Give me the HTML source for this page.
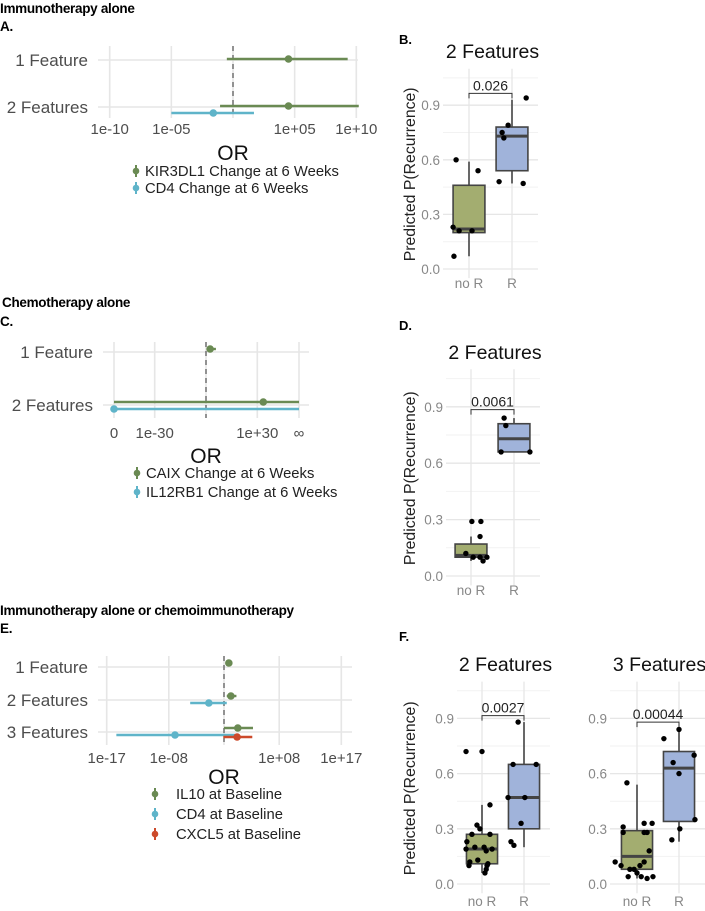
<!DOCTYPE html>
<html><head><meta charset="utf-8">
<style>
html,body{margin:0;padding:0;background:#fff;}
svg{display:block;font-family:"Liberation Sans",Arial,sans-serif;}
</style></head>
<body>
<svg id="fig" width="705" height="911" viewBox="0 0 705 911" xmlns="http://www.w3.org/2000/svg"></svg>
<script>
// ---------- Data (log10 odds ratios) ----------
const aRows = ["1 Feature", "2 Features"];
const aKirEst = [4.5, 4.5];
const aKirLo = [-0.5, -1.05];
const aKirHi = [9.3, 10.2];
const aCd4Est = [null, -1.6];
const aCd4Lo = [null, -5.0];
const aCd4Hi = [null, 1.7];
const aTicks = [-10, -5, 0, 5, 10];
const aTickLabels = ["1e-10", "1e-05", "", "1e+05", "1e+10"];

const cRows = ["1 Feature", "2 Features"];
const cCaixEst = [2.4, 33.5];
const cCaixLo = [0.6, -Infinity];
const cCaixHi = [5.8, Infinity];
const cIl12Est = [null, -Infinity];
const cIl12Lo = [null, -Infinity];
const cIl12Hi = [null, Infinity];
const cTicks = [-Infinity, -30, 0, 30, Infinity];
const cTickLabels = ["0", "1e-30", "", "1e+30", "∞"];

const eRows = ["1 Feature", "2 Features", "3 Features"];
const eIl10Est = [0.7, 1.0, 2.0];
const eIl10Lo = [0.3, 0.4, 0.0];
const eIl10Hi = [1.2, 1.8, 4.2];
const eCd4Est = [null, -2.2, -7.1];
const eCd4Lo = [null, -4.9, -15.6];
const eCd4Hi = [null, 0.4, 1.6];
const eCxEst = [null, null, 1.9];
const eCxLo = [null, null, -0.1];
const eCxHi = [null, null, 4.1];
const eTicks = [-17, -8, 0, 8, 17];
const eTickLabels = ["1e-17", "1e-08", "", "1e+08", "1e+17"];

// box plot data: [ymin, q1, median, q3, ymax]
const bNoRStats = [0.07, 0.20, 0.22, 0.46, 0.59];
const bRStats = [0.47, 0.54, 0.73, 0.78, 0.93];
const bNoRPts = [0.23, 0.07, 0.21, 0.21, 0.60, 0.54];
const bNoRJit = [-0.37, -0.35, -0.23, 0.07, -0.30, 0.21];
const bRPts = [0.48, 0.75, 0.72, 0.79, 0.47, 0.94];
const bRJit = [-0.30, -0.23, -0.19, -0.09, 0.26, 0.33];

const dNoRStats = [0.08, 0.10, 0.11, 0.17, 0.21];
const dRStats = [0.66, 0.66, 0.73, 0.81, 0.84];
const dNoRPts = [0.29, 0.29, 0.21, 0.12, 0.10, 0.10, 0.08, 0.10];
const dNoRJit = [0.02, 0.23, 0.21, -0.12, 0.05, 0.21, 0.28, 0.37];
const dRPts = [0.84, 0.80, 0.66, 0.66];
const dRJit = [-0.23, -0.19, -0.30, 0.37];

const f2NoRStats = [0.06, 0.11, 0.19, 0.27, 0.43];
const f2RStats = [0.20, 0.30, 0.47, 0.65, 0.88];
const f2NoRPts = [0.72, 0.72, 0.43, 0.23, 0.27, 0.32, 0.30, 0.27, 0.19, 0.20, 0.12, 0.13, 0.20, 0.18, 0.19, 0.10, 0.10, 0.08, 0.06, 0.11];
const f2NoRJit = [-0.38, 0.0, 0.19, -0.36, -0.24, -0.12, -0.05, 0.19, -0.38, -0.17, -0.29, -0.10, 0.05, 0.10, 0.24, -0.31, 0.12, 0.10, 0.07, 0.14];
const f2RPts = [0.88, 0.47, 0.65, 0.47, 0.65, 0.33, 0.23, 0.21];
const f2RJit = [-0.14, -0.38, -0.26, 0.02, 0.29, -0.07, -0.31, -0.24];

const f3NoRStats = [0.03, 0.08, 0.15, 0.29, 0.54];
const f3RStats = [0.23, 0.34, 0.63, 0.72, 0.85];
const f3NoRPts = [0.55, 0.31, 0.28, 0.12, 0.10, 0.04, 0.08, 0.06, 0.04, 0.12, 0.03, 0.18, 0.28, 0.28, 0.33, 0.33, 0.04, 0.08, 0.10];
const f3NoRJit = [-0.24, -0.33, -0.33, -0.52, -0.38, -0.21, -0.07, 0.0, 0.10, 0.17, 0.24, 0.29, 0.24, 0.17, 0.36, 0.17, 0.38, -0.17, 0.07];
const f3RPts = [0.79, 0.84, 0.66, 0.60, 0.70, 0.35, 0.30, 0.24];
const f3RJit = [-0.36, 0.0, -0.14, 0.0, 0.36, 0.38, 0.02, -0.17];

// ---------- helpers ----------
const NS = "http://www.w3.org/2000/svg";
const fig = document.getElementById("fig");
function mk(tag, attrs, parent) {
  const e = document.createElementNS(NS, tag);
  for (const k in attrs) e.setAttribute(k, attrs[k]);
  (parent || fig).appendChild(e);
  return e;
}
function txt(x, y, s, size, opts, parent) {
  const t = mk("text", Object.assign({x: x, y: y, "font-size": size, fill: "#4d4d4d"}, opts || {}), parent);
  t.textContent = s;
  return t;
}
const GREEN = "#6a8a53", CYAN = "#5fb4c9", RED = "#cc4a2b", GRID = "#e6e6e6";

// ---------- headings ----------
[["Immunotherapy alone", 0, 13], ["A.", 0, 31], ["Chemotherapy alone", 2, 307], ["C.", 0, 326],
 ["Immunotherapy alone or chemoimmunotherapy", 0, 615], ["E.", 0, 633]].forEach(h => {
  const t = txt(h[1], h[2], h[0], 13.5, {"font-weight": "bold", fill: "#000", "letter-spacing": "-0.3"});
  
  
});
[["B.", 399, 44], ["D.", 399, 330], ["F.", 399, 641]].forEach(h => {
  const t = txt(h[1], h[2], h[0], 13, {"font-weight": "bold", fill: "#000"});
  
  
});

// ---------- forest plot ----------
function forest(cfg) {
  const g = mk("g", {});
  
  
  cfg.ticks.forEach(v => {
    const l = mk("line", {x1: cfg.sx(v), x2: cfg.sx(v), y1: cfg.top, y2: cfg.bottom, stroke: GRID, "stroke-width": 1.6}, g);
    
    
  });
  cfg.rows.forEach((r, i) => {
    const y = cfg.rowY[i];
    const l = mk("line", {x1: cfg.left, x2: cfg.right, y1: y, y2: y, stroke: GRID, "stroke-width": 1.6}, g);
    
    
    const t = txt(cfg.left - 10, y + 6, r, 17, {"text-anchor": "end"}, g);
    
    
  });
  const d = mk("line", {x1: cfg.sx(0), x2: cfg.sx(0), y1: cfg.top, y2: cfg.bottom, stroke: "#333", "stroke-width": 1, "stroke-dasharray": "5,4"}, g);
  
  
  cfg.ticks.forEach((v, i) => {
    const t = txt(cfg.sx(v), cfg.tickY, cfg.tickLabels[i], 15, {"text-anchor": "middle"}, g);
    
    
  });
  const ot = txt(cfg.sx(0), cfg.orY, "OR", 21, {"text-anchor": "middle", fill: "#111"}, g);
  
  
  cfg.series.forEach(s => {
    s.est.forEach((e, i) => {
      if (e === null) return;
      const y = cfg.rowY[i] + s.dy;
      const l = mk("line", {x1: cfg.sx(s.lo[i]), x2: cfg.sx(s.hi[i]), y1: y, y2: y, stroke: s.color, "stroke-width": 2.4}, g);
      
      
      const c = mk("circle", {cx: cfg.sx(e), cy: y, r: 3.8, fill: s.color}, g);
      
      
    });
  });
  cfg.series.forEach((s, i) => {
    const y = cfg.legY + i * cfg.legStep;
    const k = mk("g", {}, g);
    
    
    mk("line", {x1: cfg.legX, x2: cfg.legX, y1: y - 6, y2: y + 6, stroke: s.color, "stroke-width": 2}, k);
    mk("circle", {cx: cfg.legX, cy: y, r: 3.3, fill: s.color}, k);
    txt(cfg.legTextX, y + 5, s.label, 14.8, {fill: "#222"}, k);
  });
}

const aSx = v => 233 + v * 12.33;
forest({name: "forest-plot-a", sx: aSx, left: 98, right: 358, top: 46, bottom: 118,
  rows: aRows, rowY: [60, 107], ticks: aTicks, tickLabels: aTickLabels, tickY: 134, orY: 160,
  legX: 136, legTextX: 145, legY: 171, legStep: 17,
  series: [
    {label: "KIR3DL1 Change at 6 Weeks", color: GREEN, est: aKirEst, lo: aKirLo, hi: aKirHi, dy: -1},
    {label: "CD4 Change at 6 Weeks", color: CYAN, est: aCd4Est, lo: aCd4Lo, hi: aCd4Hi, dy: 6}
  ]});

const cSx = v => v === -Infinity ? 114 : (v === Infinity ? 299 : 206 + v * 1.71);
forest({name: "forest-plot-c", sx: cSx, left: 103, right: 309, top: 342, bottom: 418,
  rows: cRows, rowY: [352, 405], ticks: cTicks, tickLabels: cTickLabels, tickY: 438, orY: 463,
  legX: 137, legTextX: 146, legY: 473, legStep: 19,
  series: [
    {label: "CAIX Change at 6 Weeks", color: GREEN, est: cCaixEst, lo: cCaixLo, hi: cCaixHi, dy: -3},
    {label: "IL12RB1 Change at 6 Weeks", color: CYAN, est: cIl12Est, lo: cIl12Lo, hi: cIl12Hi, dy: 4}
  ]});

const eSx = v => 224 + v * 6.9;
forest({name: "forest-plot-e", sx: eSx, left: 98, right: 352, top: 656, bottom: 745,
  rows: eRows, rowY: [667, 700, 732], ticks: eTicks, tickLabels: eTickLabels, tickY: 763, orY: 784,
  legX: 155, legTextX: 176, legY: 794, legStep: 20,
  series: [
    {label: "IL10 at Baseline", color: GREEN, est: eIl10Est, lo: eIl10Lo, hi: eIl10Hi, dy: -4},
    {label: "CD4 at Baseline", color: CYAN, est: eCd4Est, lo: eCd4Lo, hi: eCd4Hi, dy: 3},
    {label: "CXCL5 at Baseline", color: RED, est: eCxEst, lo: eCxLo, hi: eCxHi, dy: 5}
  ]});

// ---------- box plots ----------
function boxplot(cfg) {
  const g = mk("g", {});
  
  
  const sy = v => cfg.y0 - v * cfg.k;
  const catX = [cfg.x1, cfg.x2];
  const half = (cfg.x2 - cfg.x1) * 0.37;
  [0.15, 0.45, 0.75, 1.05].forEach(v => {
    const l = mk("line", {x1: cfg.left, x2: cfg.right, y1: sy(v), y2: sy(v), stroke: "#f2f2f2", "stroke-width": 1}, g);
    
    
  });
  [0, 0.3, 0.6, 0.9].forEach(v => {
    const l = mk("line", {x1: cfg.left, x2: cfg.right, y1: sy(v), y2: sy(v), stroke: "#e6e6e6", "stroke-width": 1.3}, g);
    
    
    const t = txt(cfg.left - 3, sy(v) + 5, v.toFixed(1), 13.5, {"text-anchor": "end", fill: "#888"}, g);
    
    
  });
  catX.forEach((x, i) => {
    const l = mk("line", {x1: x, x2: x, y1: sy(1.1), y2: sy(-0.05), stroke: "#e6e6e6", "stroke-width": 1.3}, g);
    
    
    const t = txt(x, cfg.labY, ["no R", "R"][i], 13.5, {"text-anchor": "middle", fill: "#888"}, g);
    
    
  });
  const tt = txt((cfg.left + cfg.right) / 2 + 2, cfg.titleY, cfg.title, 19.5, {"text-anchor": "middle", fill: "#111"}, g);
  
  
  if (cfg.ylab) {
    const yl = txt(0, 0, "Predicted P(Recurrence)", 15.8, {"text-anchor": "middle", fill: "#222", transform: `translate(${cfg.ylabX},${sy(0.52)}) rotate(-90)`}, g);
    
    
  }
  [[cfg.noR, "#a3ad70"], [cfg.R, "#a0b3da"]].forEach((p, i) => {
    const s = p[0], x = catX[i];
    const b = mk("g", {}, g);
    
    
    mk("line", {x1: x, x2: x, y1: sy(s[0]), y2: sy(s[4]), stroke: "#444", "stroke-width": 1.6}, b);
    mk("rect", {x: x - half, y: sy(s[3]), width: 2 * half, height: sy(s[1]) - sy(s[3]), fill: p[1], stroke: "#444", "stroke-width": 1.6}, b);
    mk("line", {x1: x - half, x2: x + half, y1: sy(s[2]), y2: sy(s[2]), stroke: "#444", "stroke-width": 3}, b);
  });
  [[cfg.noRPts, cfg.noRJit, 0], [cfg.RPts, cfg.RJit, 1]].forEach(p => {
    p[0].forEach((v, i) => {
      const c = mk("circle", {cx: catX[p[2]] + p[1][i] * (cfg.x2 - cfg.x1), cy: sy(v), r: 2.7, fill: "#000"}, g);
      
      
    });
  });
  const by = sy(cfg.bracket);
  const br = mk("path", {d: `M${catX[0]},${by + 5} V${by} H${catX[1]} V${by + 5}`, fill: "none", stroke: "#333", "stroke-width": 1}, g);
  
  
  const pt = txt((catX[0] + catX[1]) / 2, by - 3, cfg.p, 14, {"text-anchor": "middle", fill: "#222"}, g);
  
  
}

boxplot({name: "boxplot-b", title: "2 Features", titleY: 58, y0: 269, k: 182, left: 443, right: 538,
  x1: 469, x2: 512, labY: 288, ylab: true, ylabX: 415,
  noR: bNoRStats, R: bRStats, noRPts: bNoRPts, noRJit: bNoRJit, RPts: bRPts, RJit: bRJit, bracket: 0.965, p: "0.026"});
boxplot({name: "boxplot-d", title: "2 Features", titleY: 359, y0: 576, k: 188, left: 446, right: 540,
  x1: 471, x2: 514, labY: 595, ylab: true, ylabX: 415,
  noR: dNoRStats, R: dRStats, noRPts: dNoRPts, noRJit: dNoRJit, RPts: dRPts, RJit: dRJit, bracket: 0.885, p: "0.0061"});
boxplot({name: "boxplot-f-2-features", title: "2 Features", titleY: 671, y0: 884, k: 184, left: 457, right: 550,
  x1: 482, x2: 524, labY: 906, ylab: true, ylabX: 415,
  noR: f2NoRStats, R: f2RStats, noRPts: f2NoRPts, noRJit: f2NoRJit, RPts: f2RPts, RJit: f2RJit, bracket: 0.915, p: "0.0027"});
boxplot({name: "boxplot-f-3-features", title: "3 Features", titleY: 671, y0: 884, k: 184, left: 610, right: 705,
  x1: 637, x2: 679, labY: 906, ylab: false,
  noR: f3NoRStats, R: f3RStats, noRPts: f3NoRPts, noRJit: f3NoRJit, RPts: f3RPts, RJit: f3RJit, bracket: 0.88, p: "0.00044"});
</script>
</body></html>
